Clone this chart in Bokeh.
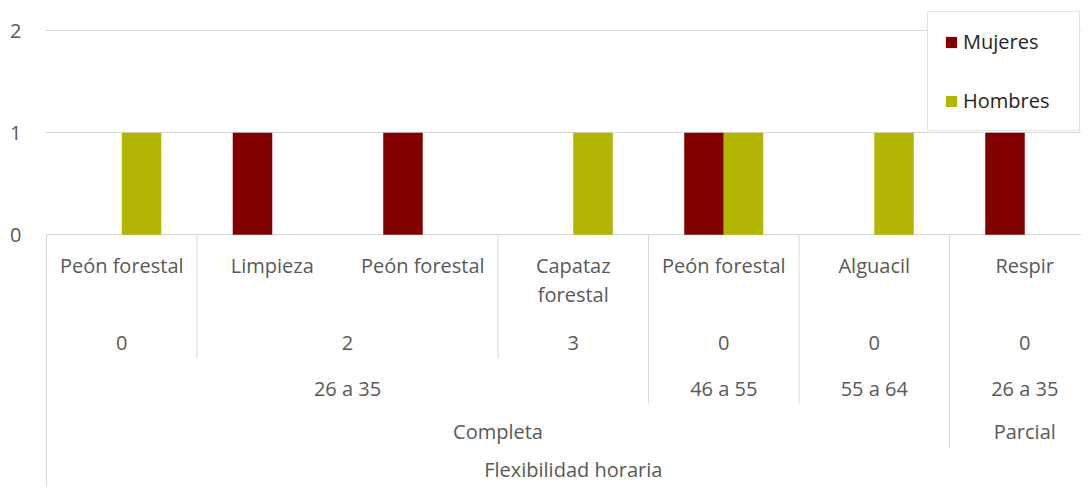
from bokeh.plotting import figure
from bokeh.models import FixedTicker, Range1d, Legend, LegendItem
from bokeh.core.properties import value
from bokeh.embed import file_html
from bokeh.resources import INLINE

# ---------------- data ----------------
puestos = ["Peón forestal", "Limpieza", "Peón forestal", "Capataz\nforestal",
           "Peón forestal", "Alguacil", "Respir"]
hijos = ["0", "2", "2", "3", "0", "0", "0"]
edades = ["26 a 35", "26 a 35", "26 a 35", "26 a 35", "46 a 55", "55 a 64", "26 a 35"]
jornadas = ["Completa", "Completa", "Completa", "Completa", "Completa", "Completa", "Parcial"]
flexibilidad = ["Flexibilidad horaria"] * 7
mujeres = [0, 1, 1, 0, 1, 0, 1]
hombres = [1, 0, 0, 1, 1, 1, 0]
y_ticks = [0, 1, 2]

# ---------------- layout (figure px) ----------------
FIG_W, FIG_H = 1081, 487
X0, UX = 46.0, 150.5      # px of category 0 start, px per category
Y0, UY = 234.3, 102.15    # px of value 0, px per unit
FRAME_L = 45
BAR_W = 0.2625

def ys(s):
    return (Y0 - s) / UY

x_start = (FRAME_L - X0) / UX
x_end = (FIG_W - X0) / UX
y_end = ys(0)
y_start = ys(FIG_H)

GRID = "#d9d9d9"
LBL = "#595959"
FONT = "Open Sans"
FS = "20px"

p = figure(width=FIG_W, height=FIG_H, output_backend="svg", toolbar_location=None,
           x_range=Range1d(x_start, x_end), y_range=Range1d(y_start, y_end),
           x_axis_location=None, min_border_left=FRAME_L, min_border_right=0,
           min_border_top=0, min_border_bottom=0, title=None)
p.outline_line_color = None
p.xgrid.visible = False
p.ygrid.ticker = FixedTicker(ticks=y_ticks)
p.ygrid.grid_line_color = GRID
p.ygrid.grid_line_width = 1
p.yaxis.ticker = FixedTicker(ticks=y_ticks)
p.yaxis.axis_line_color = None
p.yaxis.major_tick_line_color = None
p.yaxis.minor_tick_line_color = None
p.yaxis.major_label_standoff = 18
p.yaxis.major_label_text_font = FONT
p.yaxis.major_label_text_font_size = FS
p.yaxis.major_label_text_color = LBL

n = len(puestos)
centers = [i + 0.5 for i in range(n)]
r_m = p.vbar(x=[c - BAR_W / 2 for c in centers], top=mujeres, width=BAR_W,
             fill_color="#800000", line_color=None)
r_h = p.vbar(x=[c + BAR_W / 2 for c in centers], top=hombres, width=BAR_W,
             fill_color="#b3b505", line_color=None)

# ---------------- hierarchical category axis ----------------
levels = [puestos, hijos, edades, jornadas, flexibilidad]
row_y = [251, 342, 388, 431, 469]
row_bottom = [None, 358, 403, 448, FIG_H]

def key(j, i):
    return tuple(levels[k][i] for k in range(j, len(levels)))

for j, lev in enumerate(levels):
    xs, txt = [], []
    if j == 0:
        xs = centers[:]
        txt = list(lev)
    else:
        start = 0
        for i in range(1, n + 1):
            if i == n or key(j, i) != key(j, start):
                xs.append((start + i) / 2)
                txt.append(lev[start])
                start = i
    p.text(x=xs, y=[ys(row_y[j])] * len(xs), text=txt, text_align="center",
           text_baseline="top" if j == 0 else "middle",
           text_font=value(FONT), text_font_size=FS, text_color=LBL,
           text_line_height=1.1)

# separators
sx, sy0, sy1 = [], [], []
for b in range(0, n + 1):
    if b == 0 or b == n:
        ext = row_bottom[-1]
    else:
        ext = None
        for j in range(len(levels) - 1, 0, -1):
            if key(j, b - 1) != key(j, b):
                ext = row_bottom[j]
                break
    if ext is not None:
        sx.append(b)
        sy0.append(0)
        sy1.append(ys(ext))
p.segment(x0=sx, y0=sy0, x1=sx, y1=sy1, line_color=GRID, line_width=1)

legend = Legend(items=[LegendItem(label="Mujeres", renderers=[r_m]),
                       LegendItem(label="Hombres", renderers=[r_h])],
                location=(882, 356), padding=16, spacing=32,
                label_height=26, glyph_height=14, glyph_width=14,
                label_standoff=5, label_width=100,
                label_text_font=FONT, label_text_font_size=FS,
                label_text_color="#262626",
                border_line_color="#c8c8c8", border_line_width=1,
                background_fill_color="white", background_fill_alpha=1)
p.add_layout(legend)

open("out.html", "w").write(file_html(p, INLINE))
